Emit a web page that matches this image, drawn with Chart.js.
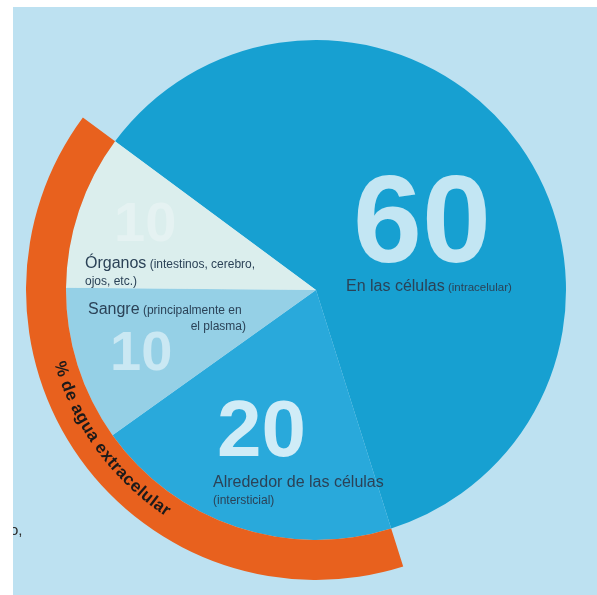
<!DOCTYPE html>
<html>
<head>
<meta charset="utf-8">
<script src="https://cdn.jsdelivr.net/npm/chart.js@4"></script>
<style>
  html, body { margin: 0; padding: 0; background: #fff; overflow: hidden; width: 597px; height: 595px; }
  #bg { position: absolute; left: 13px; top: 7px; width: 584px; height: 588px; background: #bde1f1; }
  #wrap { position: absolute; left: 0; top: 0; width: 606px; height: 580px; }
</style>
</head>
<body>
<div id="bg"></div>
<div id="wrap"><canvas id="chart"></canvas></div>
<script>
// % del agua corporal, por lugar
const categories = ['En las células', 'Alrededor de las células', 'Sangre', 'Órganos'];
const waterPct = [60, 20, 10, 10];
const ringLabels = ['intracelular', 'extracelular'];
const ringValues = [60, 40];
const ringTitle = '% de agua extracelular';

const sliceColors = ['#17a0d1', '#29a9db', '#95d0e6', '#dbeeed'];
const numberColors = ['rgba(255,255,255,0.74)', 'rgba(255,255,255,0.78)', 'rgba(255,255,255,0.5)', 'rgba(255,255,255,0.28)'];
const FONT = '"Liberation Sans", Arial, Helvetica, sans-serif';

// x, baseline, font size of the big numbers (same order as categories)
const numberPos = [[353, 262, 124], [217, 456, 80], [110, 370, 56], [114, 241, 56]];

// text lines: x, baseline, align, [text, size] parts
const textLines = [
  [346, 291, 'left', [['En las células', 16], [' (intracelular)', 11.5]]],
  [213, 487, 'left', [['Alrededor de las células', 16]]],
  [213, 504, 'left', [['(intersticial)', 12]]],
  [88, 314, 'left', [['Sangre', 16], [' (principalmente en', 12]]],
  [246, 330, 'right', [['el plasma)', 12]]],
  [85, 268, 'left', [['Órganos', 16], [' (intestinos, cerebro,', 12]]],
  [85, 285, 'left', [['ojos, etc.)', 12]]]
];

const textPlugin = {
  id: 'texts',
  afterDatasetsDraw(chart) {
    const ctx = chart.ctx;
    ctx.save();

    // big numbers
    ctx.textAlign = 'left';
    ctx.textBaseline = 'alphabetic';
    waterPct.forEach((v, i) => {
      const [x, y, size] = numberPos[i];
      ctx.font = 'bold ' + size + 'px ' + FONT;
      ctx.fillStyle = numberColors[i];
      ctx.fillText(String(v), x, y);
    });

    // labels
    ctx.fillStyle = '#2b4257';
    textLines.forEach(([x, y, align, parts]) => {
      let widths = parts.map(([t, s]) => { ctx.font = s + 'px ' + FONT; return ctx.measureText(t).width; });
      let total = widths.reduce((a, b) => a + b, 0);
      let cx = align === 'right' ? x - total : x;
      parts.forEach(([t, s], i) => {
        ctx.font = s + 'px ' + FONT;
        ctx.fillText(t, cx, y);
        cx += widths[i];
      });
    });

    // curved title on the orange ring
    const arc = chart.getDatasetMeta(0).data[1];
    const r = (arc.innerRadius + arc.outerRadius) / 2 - 3;
    ctx.font = 'bold 17px ' + FONT;
    ctx.fillStyle = '#1c1a1a';
    ctx.textAlign = 'center';
    ctx.textBaseline = 'middle';
    const chars = [...ringTitle];
    const cw = chars.map(c => ctx.measureText(c).width + 0.3);
    const tw = cw.reduce((a, b) => a + b, 0);
    let ang = (arc.startAngle + arc.endAngle) / 2 + tw / 2 / r - 0.01;
    chars.forEach((c, i) => {
      const a = ang - cw[i] / 2 / r;
      ctx.save();
      ctx.translate(arc.x + r * Math.cos(a), arc.y + r * Math.sin(a));
      ctx.rotate(a - Math.PI / 2);
      ctx.fillText(c, 0, 0);
      ctx.restore();
      ang -= cw[i] / r;
    });

    // cut-off text at the left edge
    ctx.beginPath();
    ctx.rect(13, 7, 60, 588);
    ctx.clip();
    ctx.font = '15px ' + FONT;
    ctx.textAlign = 'left';
    ctx.textBaseline = 'alphabetic';
    ctx.fillStyle = '#2a2a2a';
    ctx.fillText('o,', 10, 535);

    ctx.restore();
  }
};

new Chart(document.getElementById('chart'), {
  type: 'doughnut',
  data: {
    labels: categories,
    datasets: [
      {
        label: ringTitle,
        data: ringValues,
        backgroundColor: ['rgba(0,0,0,0)', '#e8611e'],
        borderWidth: 0,
        weight: 40
      },
      {
        label: '% de agua',
        data: waterPct,
        backgroundColor: sliceColors,
        borderWidth: 0,
        weight: 250
      }
    ]
  },
  options: {
    responsive: true,
    maintainAspectRatio: false,
    animation: false,
    events: [],
    cutout: 0,
    rotation: 306.5,
    hoverOffset: 0,
    layout: { padding: { left: 26 } },
    plugins: {
      legend: { display: false },
      tooltip: { enabled: false }
    }
  },
  plugins: [textPlugin]
});
</script>
</body>
</html>
